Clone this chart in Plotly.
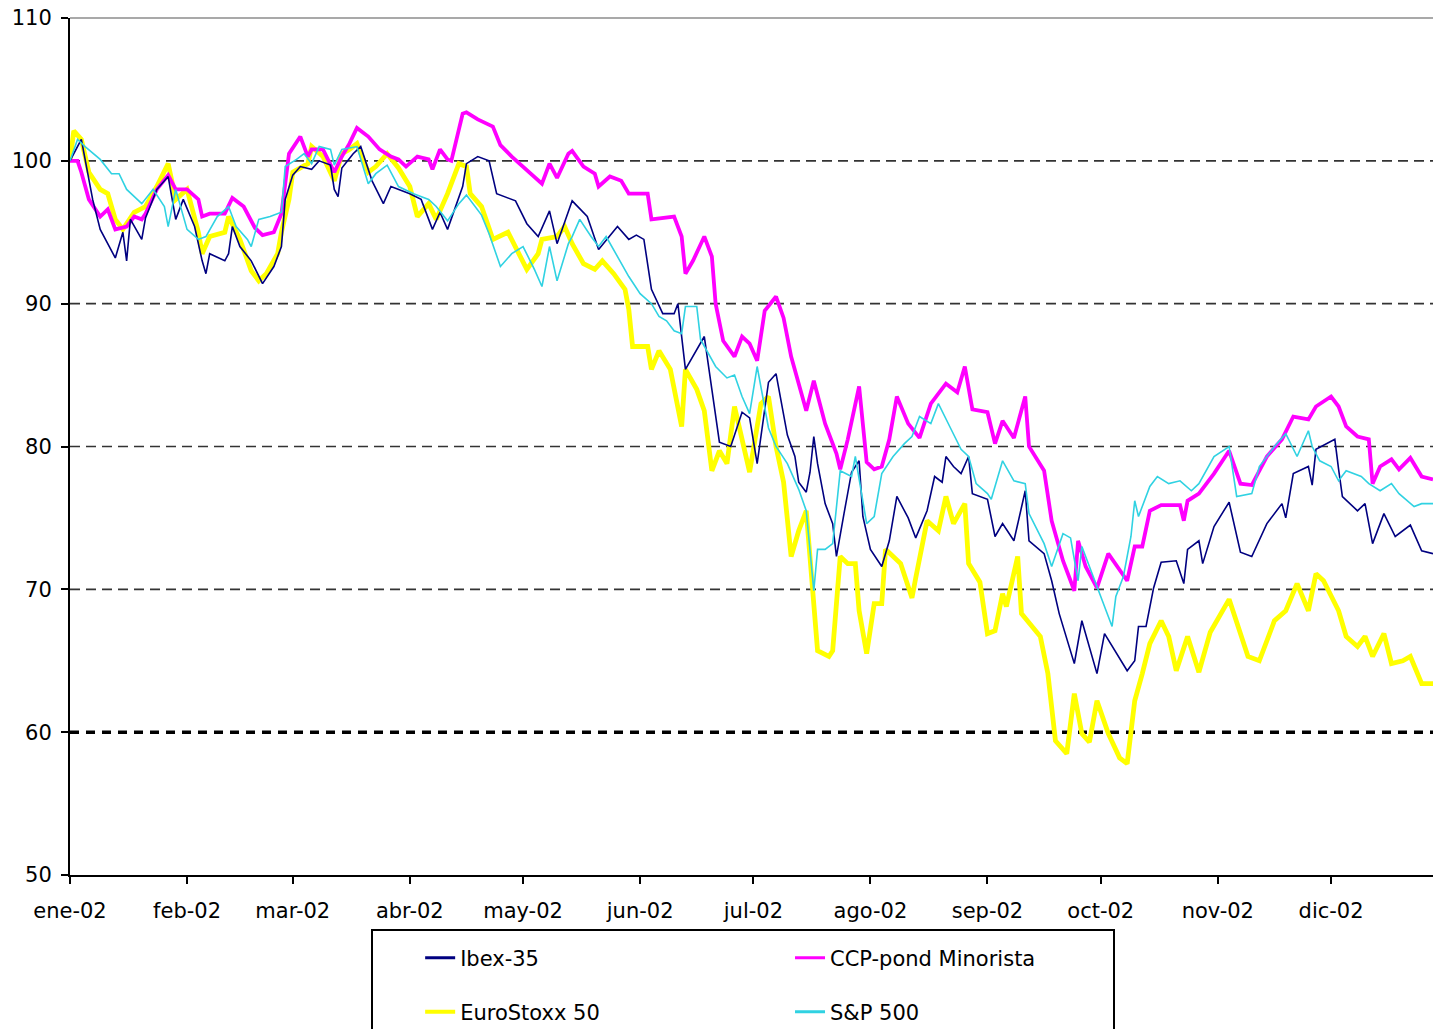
import pandas as pd
import plotly.graph_objects as go

# Índices base 100 a 1-ene-2002: (día del año desde el 1-ene, valor)
ibex_35 = [
    (0, 100), (3, 101.5), (6, 97.3), (8, 95.2), (12, 93.2), (14, 95), (15, 93), (16, 95.9),
    (19, 94.5), (20, 96), (23, 98), (26, 98.9), (28, 95.9), (30, 97.3), (33, 95.4), (35, 93),
    (36, 92.1), (37, 93.5), (41, 93), (42, 93.5), (43, 95.4), (45, 94), (48, 93), (51, 91.4),
    (54, 92.6), (56, 94), (57, 97.3), (58, 98.2), (59, 99), (61, 99.6), (64, 99.4), (66, 100),
    (69, 99.7), (70, 98), (71, 97.5), (72, 99.5), (75, 100.5), (77, 101), (79, 99.5), (80, 98.6),
    (83, 97), (85, 98.2), (90, 97.7), (93, 97.3), (96, 95.2), (98, 96.4), (100, 95.2), (104, 98.2),
    (105, 99.8), (108, 100.3), (111, 100), (113, 97.7), (118, 97.2), (121, 95.6), (124, 94.7),
    (127, 96.5), (129, 94.2), (133, 97.2), (137, 96.1), (140, 93.8), (145, 95.4), (148, 94.5),
    (150, 94.8), (152, 94.5), (154, 91), (157, 89.3), (160, 89.3), (161, 90), (163, 85.4),
    (168, 87.7), (170, 84), (172, 80.3), (175, 80), (178, 82.4), (180, 82), (182, 78.8),
    (185, 84.5), (187, 85.1), (190, 80.8), (192, 79.3), (193, 77.5), (195, 76.8), (196, 78.2),
    (197, 80.7), (198, 78.8), (200, 76), (202, 74.6), (203, 72.3), (205, 75.3), (207, 78.2),
    (209, 79), (210, 75.1), (212, 72.8), (215, 71.6), (217, 73.4), (219, 76.5), (222, 75),
    (224, 73.6), (227, 75.5), (229, 77.9), (231, 77.5), (232, 79.3), (234, 78.6), (236, 78.1),
    (238, 79.3), (239, 76.7), (243, 76.3), (245, 73.7), (247, 74.6), (250, 73.4), (253, 76.9),
    (254, 73.4), (258, 72.5), (260, 70.6), (262, 68.3), (266, 64.8), (268, 67.8), (269, 66.9),
    (272, 64.1), (274, 66.9), (276, 66), (280, 64.3), (282, 65), (283, 67.4), (285, 67.4),
    (287, 70.1), (289, 71.9), (293, 72), (295, 70.4), (296, 72.8), (299, 73.4), (300, 71.8),
    (303, 74.4), (307, 76.1), (310, 72.6), (313, 72.3), (317, 74.6), (321, 76), (322, 75),
    (324, 78.1), (328, 78.6), (329, 77.3), (330, 79.8), (333, 80.2), (335, 80.5), (336, 78.4),
    (337, 76.5), (341, 75.5), (343, 76), (345, 73.2), (348, 75.3), (351, 73.7), (355, 74.5),
    (358, 72.7), (361, 72.5),
]

ccp_minorista = [
    (0, 100), (2, 100), (3, 99.2), (5, 97.3), (8, 96.1), (10, 96.6), (12, 95.2), (15, 95.4),
    (17, 96.1), (19, 95.9), (20, 96.3), (23, 98), (26, 99), (28, 98), (31, 98), (34, 97.3),
    (35, 96.1), (37, 96.3), (41, 96.3), (43, 97.4), (46, 96.8), (49, 95.3), (51, 94.8), (54, 95),
    (56, 96.3), (57, 98.2), (58, 100.5), (61, 101.7), (63, 100.3), (64, 100.8), (67, 100.8),
    (70, 99.2), (72, 100.3), (74, 101.2), (76, 102.3), (79, 101.7), (82, 100.8), (85, 100.3),
    (87, 100.1), (89, 99.6), (92, 100.3), (95, 100.1), (96, 99.4), (98, 100.8), (100, 100.1),
    (101, 100), (104, 103.3), (105, 103.4), (108, 102.9), (112, 102.4), (114, 101.1), (117, 100.3),
    (122, 99.1), (125, 98.4), (127, 99.8), (129, 98.8), (132, 100.5), (133, 100.7), (136, 99.6),
    (139, 99.1), (140, 98.2), (143, 98.9), (146, 98.6), (148, 97.7), (153, 97.7), (154, 95.9),
    (160, 96.1), (162, 94.7), (163, 92.1), (165, 93), (168, 94.7), (170, 93.3), (171, 90),
    (173, 87.4), (176, 86.3), (178, 87.7), (180, 87.2), (182, 86), (184, 89.5), (187, 90.5),
    (189, 89), (191, 86.3), (195, 82.5), (197, 84.6), (200, 81.6), (203, 79.5), (204, 78.4),
    (206, 80.5), (209, 84.2), (211, 78.9), (213, 78.4), (215, 78.6), (217, 80.5), (219, 83.5),
    (222, 81.6), (225, 80.6), (228, 83), (232, 84.4), (235, 83.8), (237, 85.6), (239, 82.6),
    (243, 82.4), (245, 80.2), (247, 81.8), (250, 80.6), (253, 83.5), (254, 80), (258, 78.3),
    (260, 74.8), (263, 72), (266, 69.9), (267, 73.4), (269, 71.6), (272, 70.1), (275, 72.5),
    (278, 71.3), (280, 70.6), (282, 73), (284, 73), (286, 75.5), (289, 75.9), (294, 75.9),
    (295, 74.8), (296, 76.2), (299, 76.7), (303, 78.1), (307, 79.7), (310, 77.4), (313, 77.3),
    (317, 79.3), (321, 80.5), (324, 82.1), (328, 81.9), (330, 82.8), (334, 83.5), (336, 82.8),
    (338, 81.4), (341, 80.7), (344, 80.5), (345, 77.4), (347, 78.6), (350, 79.1), (352, 78.4),
    (355, 79.2), (358, 77.9), (361, 77.7),
]

eurostoxx_50 = [
    (0, 100), (1, 102.1), (3, 101.5), (5, 99.2), (8, 98), (10, 97.7), (12, 95.9), (14, 95.2),
    (17, 96.4), (20, 96.8), (23, 98.2), (26, 99.8), (28, 97.3), (31, 98), (34, 95), (35, 93.5),
    (37, 94.7), (41, 95), (42, 96.1), (45, 94.5), (48, 92.3), (50, 91.6), (52, 92.1), (55, 93.5),
    (56, 95), (58, 97.3), (59, 99.2), (63, 99.8), (64, 101), (67, 100.3), (70, 98.6), (72, 100.5),
    (74, 100.8), (76, 101.2), (79, 99.2), (81, 99.6), (84, 100.5), (87, 99.5), (90, 98.2),
    (92, 96.1), (95, 97), (97, 95.9), (100, 97.7), (103, 99.8), (105, 99.6), (106, 97.7),
    (109, 96.8), (112, 94.5), (116, 95), (118, 94), (121, 92.4), (124, 93.5), (125, 94.5),
    (129, 94.7), (131, 95.4), (133, 94.2), (136, 92.8), (139, 92.4), (141, 93), (144, 92.1),
    (147, 91), (148, 89.6), (149, 87), (153, 87), (154, 85.4), (156, 86.7), (159, 85.4),
    (162, 81.4), (163, 85.4), (166, 84), (168, 82.5), (170, 78.3), (172, 79.7), (174, 78.8),
    (176, 82.8), (178, 80.5), (180, 78.2), (183, 83), (185, 83.5), (187, 80), (189, 77.5),
    (191, 72.3), (193, 74.1), (195, 75.5), (197, 69), (198, 65.7), (201, 65.3), (202, 65.7),
    (204, 72.3), (206, 71.8), (208, 71.8), (209, 68.5), (211, 65.5), (213, 69), (215, 69),
    (216, 72.8), (220, 71.8), (223, 69.4), (224, 70.8), (227, 74.8), (230, 74.1), (232, 76.5),
    (234, 74.6), (237, 76), (238, 71.8), (241, 70.5), (243, 66.9), (245, 67.1), (247, 69.7),
    (248, 68.8), (251, 72.3), (252, 68.3), (257, 66.7), (259, 64.1), (261, 59.4), (264, 58.5),
    (266, 62.7), (268, 59.9), (270, 59.3), (272, 62.2), (275, 59.9), (278, 58.2), (280, 57.8),
    (282, 62.2), (284, 64.1), (286, 66.2), (289, 67.8), (291, 66.7), (293, 64.3), (296, 66.7),
    (299, 64.2), (302, 67), (307, 69.3), (312, 65.3), (315, 65), (319, 67.8), (322, 68.5),
    (325, 70.4), (328, 68.5), (330, 71.1), (332, 70.6), (336, 68.5), (338, 66.7), (341, 66),
    (343, 66.7), (345, 65.3), (348, 66.9), (350, 64.8), (353, 65), (355, 65.3), (358, 63.4),
    (361, 63.4),
]

sp_500 = [
    (0, 100), (2, 101.5), (4, 101), (8, 100.1), (11, 99.1), (13, 99.1), (15, 98), (17, 97.5),
    (19, 97), (22, 98), (25, 96.8), (26, 95.4), (28, 98), (31, 95.2), (34, 94.5), (36, 94.7),
    (39, 96.1), (42, 96.8), (44, 95.4), (47, 94.5), (48, 94), (50, 95.9), (53, 96.1), (56, 96.4),
    (57, 99.6), (60, 100.1), (62, 100.5), (64, 99.8), (66, 101), (69, 100.8), (70, 99.7),
    (72, 100.8), (76, 101), (79, 98.4), (81, 99.1), (84, 99.7), (87, 98.2), (91, 97.7),
    (95, 97.3), (97, 96.8), (100, 95.8), (103, 97), (105, 97.6), (109, 96.2), (111, 94.9),
    (114, 92.6), (117, 93.5), (120, 94), (123, 92.4), (125, 91.2), (127, 94), (129, 91.6),
    (132, 94.2), (133, 94.7), (135, 95.9), (138, 94.7), (140, 94), (142, 94.7), (146, 92.8),
    (148, 91.9), (151, 90.7), (154, 90), (156, 89.1), (158, 88.8), (160, 88.1), (162, 87.9),
    (163, 89.8), (166, 89.8), (167, 87.5), (169, 86.5), (171, 85.6), (174, 84.8), (176, 85),
    (178, 83.5), (180, 82.3), (182, 85.6), (185, 81.3), (187, 80), (190, 78.8), (193, 77),
    (195, 75.5), (197, 69.9), (198, 72.8), (200, 72.8), (202, 73.2), (204, 78.3), (207, 77.9),
    (208, 79.3), (211, 74.6), (213, 75.1), (215, 78.1), (218, 79.3), (221, 80.2), (223, 80.7),
    (225, 82.1), (228, 81.6), (230, 83), (233, 81.4), (236, 79.8), (238, 79.3), (240, 77.4),
    (243, 76.7), (244, 76.3), (247, 79), (250, 77.6), (253, 77.4), (254, 75.3), (258, 73.2),
    (260, 71.6), (263, 73.9), (265, 73.6), (267, 70.6), (268, 73), (271, 70.9), (274, 68.8),
    (276, 67.4), (277, 69.5), (279, 70.9), (281, 73.7), (282, 76.2), (283, 75.1), (286, 77.2),
    (288, 77.9), (291, 77.4), (294, 77.6), (297, 76.9), (299, 77.4), (303, 79.3), (307, 80),
    (309, 76.5), (313, 76.7), (315, 78.6), (319, 80), (322, 80.9), (325, 79.3), (328, 81.1),
    (329, 80), (331, 79), (334, 78.6), (336, 77.6), (338, 78.3), (342, 77.9), (344, 77.4),
    (347, 76.9), (350, 77.4), (352, 76.7), (356, 75.8), (358, 76), (361, 76),
]

meses = ["ene-02", "feb-02", "mar-02", "abr-02", "may-02", "jun-02",
         "jul-02", "ago-02", "sep-02", "oct-02", "nov-02", "dic-02"]
lineas_guia = [60, 70, 80, 90, 100]

inicio = pd.Timestamp("2002-01-01")
fin = pd.Timestamp("2002-12-28")
inicio_mes = pd.date_range(inicio, periods=len(meses), freq="MS")

FUENTE = "DejaVu Sans, Arial, sans-serif"
TAM = 21

# (nombre, datos, color, grosor de la serie, grosor en la leyenda, leyenda)
series = [
    ("Ibex-35", ibex_35, "#000080", 1.6, 3, "legend"),
    ("CCP-pond Minorista", ccp_minorista, "#FF00FF", 3.8, 3, "legend2"),
    ("EuroStoxx 50", eurostoxx_50, "#FFFF00", 4.8, 4, "legend3"),
    ("S&P 500", sp_500, "#30D2E2", 1.6, 3, "legend4"),
]
orden_dibujo = ["EuroStoxx 50", "CCP-pond Minorista", "Ibex-35", "S&P 500"]


def fechas(datos):
    dias = [d for d, _ in datos]
    return inicio + pd.to_timedelta(dias, unit="D")


fig = go.Figure()

por_nombre = {s[0]: s for s in series}
for nombre in orden_dibujo:
    _, datos, color, grosor, _, _ = por_nombre[nombre]
    fig.add_trace(go.Scatter(
        x=fechas(datos), y=[v for _, v in datos], mode="lines", name=nombre,
        line=dict(color=color, width=grosor), showlegend=False, hoverinfo="skip",
    ))

# Entradas de la leyenda (dos columnas, dos filas)
pos_leyenda = {
    "legend": (0.2932, 0.069),
    "legend2": (0.5513, 0.069),
    "legend3": (0.2932, 0.0165),
    "legend4": (0.5513, 0.0165),
}
for nombre, _, color, _, grosor_ley, ley in series:
    fig.add_trace(go.Scatter(
        x=[None], y=[None], mode="lines", name=nombre,
        line=dict(color=color, width=grosor_ley), legend=ley, showlegend=True,
    ))

leyendas = {}
for ley, (lx, ly) in pos_leyenda.items():
    leyendas[ley] = dict(
        xref="container", yref="container", x=lx, y=ly,
        xanchor="left", yanchor="middle", bgcolor="rgba(0,0,0,0)",
        borderwidth=0, font=dict(family=FUENTE, size=TAM, color="black"),
        itemwidth=30,
    )

formas = []
for g in lineas_guia:
    gruesa = g == min(lineas_guia)
    formas.append(dict(
        type="line", xref="paper", yref="y", x0=0, x1=1, y0=g, y1=g, layer="below",
        line=dict(color="black" if gruesa else "#333333", width=3.5 if gruesa else 1.6,
                  dash="9px,7px" if gruesa else "10px,6px"),
    ))
# borde superior del área de trazado
formas.append(dict(type="line", xref="paper", yref="paper", x0=0, x1=1, y0=1, y1=1,
                   line=dict(color="#8C8C8C", width=1.6)))
# marco de la leyenda
formas.append(dict(type="rect", xref="paper", yref="paper",
                   x0=(372 - 70) / 1363, x1=(1114 - 70) / 1363,
                   y0=-0.19, y1=-(930 - 875) / 857,
                   line=dict(color="black", width=2), fillcolor="rgba(0,0,0,0)"))

fig.update_layout(
    width=1433, height=1029,
    margin=dict(l=70, r=0, t=18, b=154, autoexpand=False),
    paper_bgcolor="white", plot_bgcolor="white",
    font=dict(family=FUENTE, size=TAM, color="black"),
    shapes=formas,
    xaxis=dict(
        type="date", range=[inicio, fin],
        tickmode="array", tickvals=inicio_mes, ticktext=meses, tickangle=0,
        ticks="outside", ticklen=7, tickwidth=2, tickcolor="black",
        showline=True, linecolor="black", linewidth=2,
        showgrid=False, zeroline=False, ticklabelstandoff=9, automargin=False,
        tickfont=dict(family=FUENTE, size=TAM, color="black"),
    ),
    yaxis=dict(
        range=[50, 110], dtick=10, tick0=50,
        ticks="outside", ticklen=7, tickwidth=2, tickcolor="black",
        showline=True, linecolor="black", linewidth=2,
        showgrid=False, zeroline=False, ticklabelstandoff=5, automargin=False,
        tickfont=dict(family=FUENTE, size=TAM, color="black"),
    ),
    **leyendas,
)

fig.write_html("out.html")
